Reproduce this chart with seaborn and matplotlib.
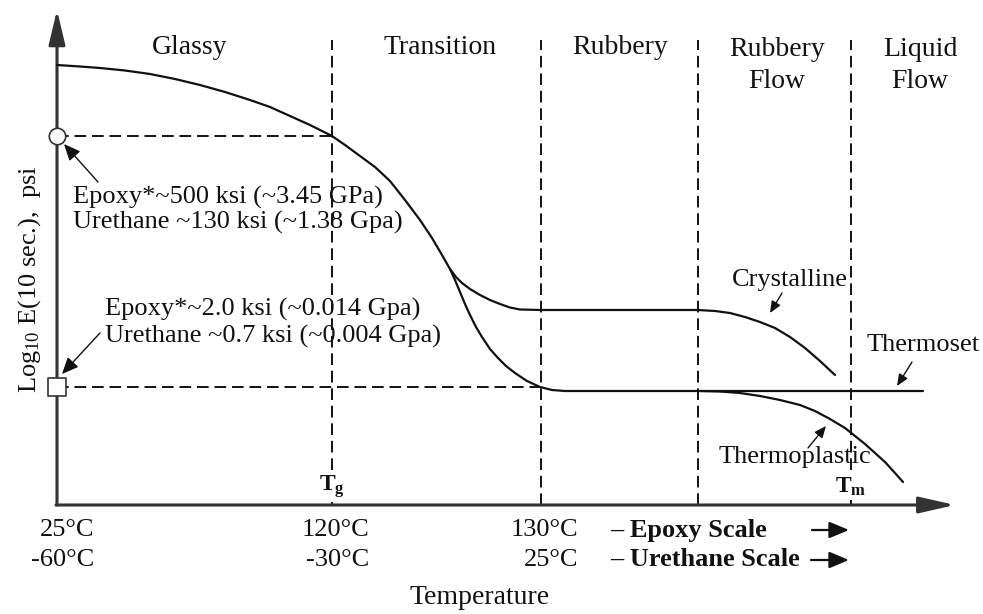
import matplotlib
matplotlib.use("Agg")
import matplotlib.pyplot as plt
import seaborn as sns
import pandas as pd

# Schematic coordinates: x = distance along the temperature axis,
# y = level of log10 modulus above the temperature axis.
glassy_x = [0, 23, 43, 68, 93, 118, 143, 168, 193, 213, 233, 253, 275, 288,
            303, 318, 333, 348, 363, 375, 385, 393]
glassy_y = [440, 438.5, 437, 434.5, 431, 426, 420, 413, 405, 398, 389, 380, 369, 360,
            349, 338, 324, 305, 285, 267, 250, 236]

crystalline_x = [393, 399, 405, 413, 423, 433, 443, 453, 463, 484, 641, 658, 673, 688,
                 703, 718, 733, 748, 763, 778]
crystalline_y = [236, 228, 222, 216, 210, 205, 201, 197.5, 195.5, 195, 195, 194, 192, 188,
                 183, 177, 168, 157, 144, 130]

thermoset_x = [393, 398, 403, 408, 413, 419, 425, 433, 441, 449, 458, 470, 483, 495, 508, 866]
thermoset_y = [236, 225, 213, 201, 190, 178, 168, 156, 147, 139, 132, 124, 118, 115, 114, 114]

thermoplastic_x = [643, 663, 683, 703, 723, 743, 758, 773, 788, 798, 808, 818, 828, 838, 846]
thermoplastic_y = [114, 113.5, 112, 109, 105, 100, 94, 86, 77, 69, 61, 52, 43, 32, 23]

# Region boundaries on the temperature axis
boundary_x = [275, 484, 641, 794]

# Reference modulus levels marked on the vertical axis
glassy_level = 369
rubbery_level = 118

region_names = ["Glassy", "Transition", "Rubbery", "Rubbery\nFlow", "Liquid\nFlow"]
epoxy_ticks = ["25°C", "120°C", "130°C"]
urethane_ticks = ["-60°C", "-30°C", "25°C"]
tick_x = [0, 275, 484]

glassy_notes = ["Epoxy*~500 ksi (~3.45 GPa)", "Urethane ~130 ksi (~1.38 Gpa)"]
rubbery_notes = ["Epoxy*~2.0 ksi (~0.014 Gpa)", "Urethane ~0.7 ksi (~0.004 Gpa)"]

sns.set_style("white")
plt.rcParams["font.family"] = ["Liberation Serif", "DejaVu Serif"]
plt.rcParams["mathtext.fontset"] = "custom"
plt.rcParams["mathtext.rm"] = "Liberation Serif"
plt.rcParams["mathtext.it"] = "Liberation Serif:italic"
plt.rcParams["mathtext.bf"] = "Liberation Serif:bold"

fig = plt.figure(figsize=(9.83, 6.14), dpi=100)
ax = fig.add_axes([0, 0, 1, 1])
ax.set_xlim(-57, 926)
ax.set_ylim(-109, 505)
ax.axis("off")

OX, OY = 57, 505


def P(px, py):
    """Position given relative to the figure's top-left corner."""
    return (px - OX, OY - py)


INK = "#111111"
dash = (0, (6.0, 3.0))

# Boundary lines of the regions
for bx in boundary_x:
    ax.plot([bx, bx], [0, 465], color=INK, lw=1.4, ls=dash, zorder=1)

# Reference levels
ax.plot([0, boundary_x[0]], [glassy_level, glassy_level], color=INK, lw=1.4, ls=dash, zorder=1)
ax.plot([0, boundary_x[1]], [rubbery_level, rubbery_level], color=INK, lw=1.4, ls=dash, zorder=1)

# Modulus curves
curves = [
    (glassy_x, glassy_y),
    (crystalline_x, crystalline_y),
    (thermoset_x, thermoset_y),
    (thermoplastic_x, thermoplastic_y),
]
for cx, cy in curves:
    df = pd.DataFrame({"T": cx, "E": cy})
    sns.lineplot(data=df, x="T", y="E", sort=False, estimator=None,
                 color=INK, lw=1.6, ax=ax, zorder=3,
                 solid_joinstyle="round", solid_capstyle="round")

# Axes with arrow heads
ax.annotate("", xy=(0, 495), xytext=(0, 0),
            arrowprops=dict(arrowstyle="-|>,head_length=1.05,head_width=0.25",
                            mutation_scale=20, lw=2.2, color="#333333",
                            shrinkA=0, shrinkB=0), zorder=2)
ax.annotate("", xy=(898, 0), xytext=(-1, 0),
            arrowprops=dict(arrowstyle="-|>,head_length=1.1,head_width=0.25",
                            mutation_scale=20, lw=2.2, color="#333333",
                            shrinkA=0, shrinkB=0), zorder=2)

# Level markers on the vertical axis
sns.scatterplot(x=[0], y=[glassy_level], marker="o", s=140, color="white",
                edgecolor="#333333", linewidth=1.2, ax=ax, zorder=5)
sns.scatterplot(x=[0], y=[rubbery_level], marker="s", s=150, color="white",
                edgecolor="#333333", linewidth=1.2, ax=ax, zorder=5)

# Region titles (two-line titles drawn line by line)
region_pos = [190, 440, 620, 777, 920]
for name, rx in zip(region_names, region_pos):
    for k, line in enumerate(name.split("\n")):
        ry = 47 if "\n" not in name else 50 + 32 * k
        ax.text(*P(rx, ry), line, ha="center", va="center", fontsize=20, color=INK)

# Notes on the glassy and rubbery levels
for i, t in enumerate(glassy_notes):
    ax.text(*P(73, 197 + 25 * i), t, ha="left", va="center", fontsize=19, color=INK)
for i, t in enumerate(rubbery_notes):
    ax.text(*P(105, 309 + 27 * i), t, ha="left", va="center", fontsize=19, color=INK)

small_arrow = dict(arrowstyle="-|>,head_length=0.5,head_width=0.22",
                   mutation_scale=20, lw=1.0, color=INK, shrinkA=0, shrinkB=0)
ax.annotate("", xy=P(64, 144), xytext=P(98, 182), arrowprops=small_arrow)
ax.annotate("", xy=P(62, 374), xytext=P(100, 333), arrowprops=small_arrow)

# Curve labels
label_arrow = dict(arrowstyle="-|>,head_length=0.35,head_width=0.15",
                   mutation_scale=20, lw=1.0, color=INK, shrinkA=0, shrinkB=0)
ax.text(*P(790, 280), "Crystalline", ha="center", va="center", fontsize=19, color=INK)
ax.annotate("", xy=P(770, 313), xytext=P(782, 293), arrowprops=label_arrow)
ax.text(*P(923, 345), "Thermoset", ha="center", va="center", fontsize=19, color=INK)
ax.annotate("", xy=P(897, 386), xytext=P(912, 362), arrowprops=label_arrow)
ax.text(*P(795, 457), "Thermoplastic", ha="center", va="center", fontsize=19, color=INK)
ax.annotate("", xy=P(826, 426), xytext=P(808, 448), arrowprops=label_arrow)

# Tg and Tm marks
ax.text(boundary_x[0], 18, r"$\mathbf{T_g}$", ha="center", va="center",
        fontsize=17, color=INK, zorder=4,
        bbox=dict(facecolor="white", edgecolor="none", pad=1))
ax.text(boundary_x[3], 18, r"$\mathbf{T_m}$", ha="center", va="center",
        fontsize=17, color=INK, zorder=4,
        bbox=dict(facecolor="white", edgecolor="none", pad=1))

# Temperature tick labels for both scales
for tx, e_lab, u_lab in zip(tick_x, epoxy_ticks, urethane_ticks):
    ax.text(tx + 37, OY - 530, e_lab, ha="right", va="center", fontsize=19, color=INK)
    ax.text(tx + 37, OY - 560, u_lab, ha="right", va="center", fontsize=19, color=INK)

ax.text(*P(610, 530), "– Epoxy Scale", ha="left", va="center", fontsize=19,
        fontweight="bold", color=INK)
ax.text(*P(610, 560), "– Urethane Scale", ha="left", va="center", fontsize=19,
        fontweight="bold", color=INK)
scale_arrow = dict(arrowstyle="-|>,head_length=0.6,head_width=0.25",
                   mutation_scale=20, lw=1.6, color=INK, shrinkA=0, shrinkB=0)
ax.annotate("", xy=P(849, 530), xytext=P(812, 530), arrowprops=scale_arrow)
ax.annotate("", xy=P(849, 560), xytext=P(811, 560), arrowprops=scale_arrow)

# Axis titles
ax.text(*P(480, 597), "Temperature", ha="center", va="center", fontsize=20, color=INK)
ax.text(*P(30, 279), r"Log$_{10}$ E(10 sec.),  psi", ha="center", va="center",
        rotation=90, fontsize=19, color=INK)

fig.savefig("out.png", dpi=100)
